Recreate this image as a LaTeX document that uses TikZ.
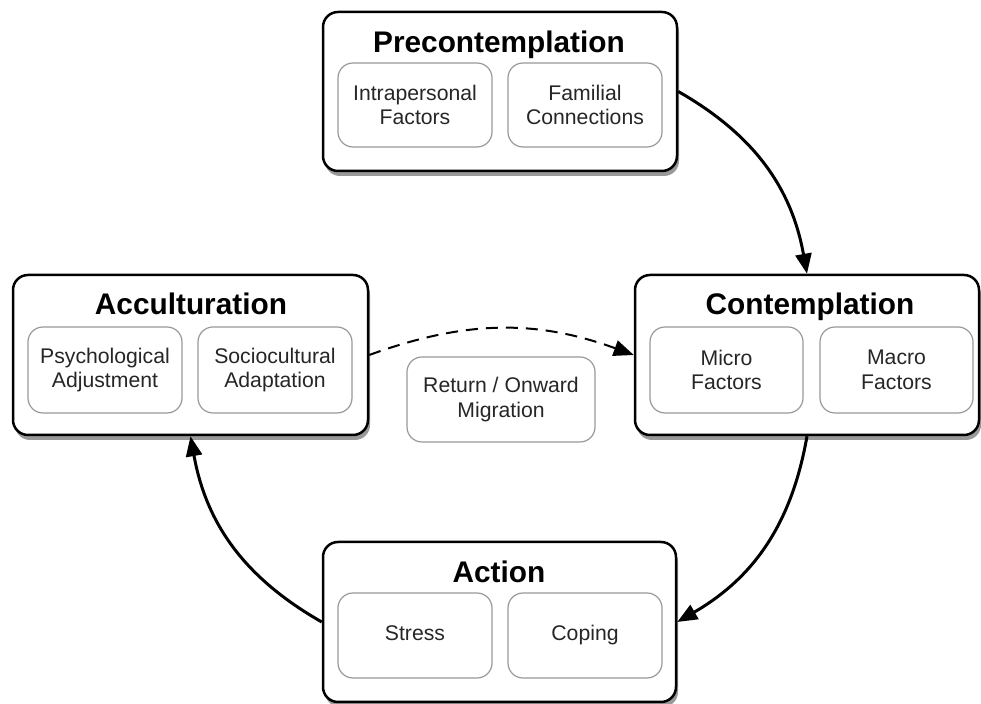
\documentclass[tikz,border=0pt]{standalone}
\usepackage{fontspec}
\setmainfont{Liberation Sans}
\usetikzlibrary{arrows.meta,shadows}

\begin{document}
\begin{tikzpicture}[x=0.5pt, y=-0.5pt,
  stage/.style={draw, rectangle, rounded corners=7.5pt, line width=1.25pt, fill=white, inner sep=0pt,
    drop shadow={shadow xshift=1pt, shadow yshift=-2.5pt, fill=black!80}},
  factor/.style={draw=black!40, rectangle, rounded corners=7.5pt, line width=0.6pt, fill=white, inner sep=0pt,
    align=center, text=black!85, font=\fontsize{10.6}{12.2}\selectfont},
  stagetitle/.style={anchor=base, font=\bfseries\fontsize{14.9}{16}\selectfont},
  flow/.style={-{Triangle[length=10pt, width=8pt]}, line width=1.5pt}]
\useasboundingbox (0,0) rectangle (981,704);

% Precontemplation
\node[stage, minimum width=177pt, minimum height=79.5pt] (pre) at (500,91.5) {};
\node[stagetitle] (pretitle) at (499,53) {Precontemplation};
\node[factor, minimum width=77pt, minimum height=42pt] (intra) at (415,105) {Intrapersonal\\Factors};
\node[factor, minimum width=77pt, minimum height=42pt] (fam) at (585,105) {Familial\\Connections};

% Acculturation
\node[stage, minimum width=177.5pt, minimum height=80pt] (acc) at (190.5,355) {};
\node[stagetitle] (acctitle) at (191,315) {Acculturation};
\node[factor, minimum width=77pt, minimum height=43pt] (psych) at (105,370) {Psychological\\Adjustment};
\node[factor, minimum width=77pt, minimum height=43pt] (socio) at (275,370) {Sociocultural\\Adaptation};

% Contemplation
\node[stage, minimum width=172pt, minimum height=80pt] (con) at (807,355) {};
\node[stagetitle] (contitle) at (810,315) {Contemplation};
\node[factor, minimum width=76.5pt, minimum height=43pt] (micro) at (726.5,370) {Micro\\Factors};
\node[factor, minimum width=76.5pt, minimum height=43pt] (macro) at (896.5,370) {Macro\\Factors};

% Return / onward migration
\node[factor, minimum width=94pt, minimum height=42.5pt] (ret) at (501,399.5) {Return / Onward\\Migration};

% Action
\node[stage, minimum width=176.5pt, minimum height=80pt] (act) at (499.5,622) {};
\node[stagetitle] (acttitle) at (499,583) {Action};
\node[factor, minimum width=77pt, minimum height=42.5pt] (stress) at (415,635.5) {\strut Stress};
\node[factor, minimum width=77pt, minimum height=42.5pt] (coping) at (585,635.5) {\strut Coping};

% Cycle
\draw[flow] (pre.east) to[bend left=25] (con.north);
\draw[flow] (con.south) to[bend left=25] (act.east);
\draw[flow] (act.west) to[bend left=25] (acc.south);

% Dashed return
\draw[flow, line width=1pt, dash pattern=on 6pt off 4pt] (acc.east) to[bend left=20] (con.west);
\end{tikzpicture}
\end{document}
